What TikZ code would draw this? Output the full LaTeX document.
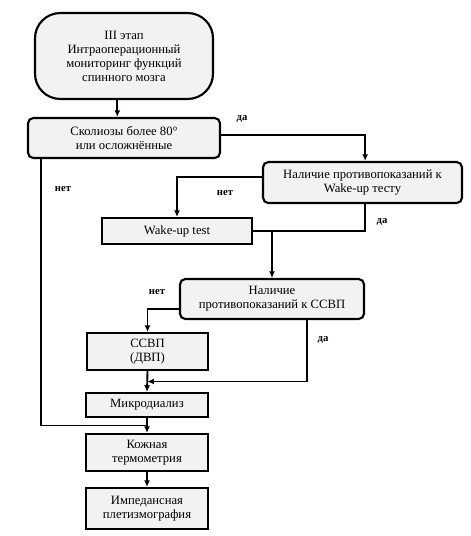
\documentclass[tikz,border=0pt]{standalone}
\usepackage{fontspec}
\setmainfont{Liberation Serif}
\usepackage{tikz}
\usetikzlibrary{arrows.meta, positioning, calc}

\tikzset{
 box/.style={draw, line width=1.6pt, fill=black!5, inner sep=0pt, align=center,
   font=\fontsize{9.5}{10.5}\selectfont},
 rbox/.style={box, rounded corners=4pt},
 arr/.style={-{Latex[length=5pt,width=4.5pt]}},
 lbl/.style={font=\bfseries\fontsize{8}{9}\selectfont}
}

\begin{document}
\begin{tikzpicture}[x=0.75pt,y=-0.75pt,line width=1.4pt]
 \useasboundingbox (0,0) rectangle (471,536);
 % boxes
 \node[box, rounded corners=19pt, minimum width=178*0.75pt, minimum height=86*0.75pt]
   (stage) at (124,56) {III этап\\Интраоперационный\\мониторинг функций\\спинного мозга};
 \node[rbox, minimum width=192*0.75pt, minimum height=40*0.75pt]
   (scol) at (124,138) {Сколиозы более 80°\\или осложнённые};
 \node[rbox, minimum width=199*0.75pt, minimum height=41*0.75pt]
   (cwake) at (362.5,182.5) {Наличие противопоказаний к\\Wake-up тесту};
 \node[box, minimum width=150*0.75pt, minimum height=26*0.75pt]
   (wake) at (177,231) {Wake-up test};
 \node[rbox, minimum width=184*0.75pt, minimum height=40*0.75pt]
   (cssvp) at (272,299) {Наличие\\противопоказаний к ССВП};
 \node[box, minimum width=121*0.75pt, minimum height=37*0.75pt]
   (ssvp) at (147.5,351.5) {ССВП\\(ДВП)};
 \node[box, minimum width=122*0.75pt, minimum height=24*0.75pt]
   (micro) at (147,405) {Микродиализ};
 \node[box, minimum width=122*0.75pt, minimum height=37*0.75pt]
   (therm) at (147,452.5) {Кожная\\термометрия};
 \node[box, minimum width=122*0.75pt, minimum height=41*0.75pt]
   (imped) at (147,508.5) {Импедансная\\плетизмография};

 % junctions
 \coordinate (j1) at (cssvp.north |- wake.east);
 \coordinate (j2) at ($(ssvp.south)!.5!(micro.north)$);
 \coordinate (j3) at ($(micro.south)!.5!(therm.north)$);

 % connectors
 \draw[arr] ([xshift=-5pt]stage.south) -- ([xshift=-5pt]scol.north);
 \draw[arr] ([yshift=2pt]scol.east) -| ([xshift=2pt]cwake.north);
 \draw[arr] ([yshift=4pt]cwake.west) -| (wake.north);
 \draw ([xshift=2pt]cwake.south) |- (j1);
 \draw[arr] (wake.east) -- (j1) -- (cssvp.north);
 \draw[arr] ([yshift=-7.5pt]cssvp.west) -| (ssvp.north);
 \draw[arr] ([xshift=26pt]cssvp.south) |- (j2);
 \draw[arr] (ssvp.south) -- (micro.north);
 \draw ([xshift=10.5pt]scol.south west) |- (j3);
 \draw[arr] (micro.south) -- (therm.north);
 \draw[arr] (therm.south) -- (imped.north);

 % labels
 \node[lbl] (yes1) at (242,119) {да};
 \node[lbl] (no1) at (63,189) {нет};
 \node[lbl] (no2) at (225,193) {нет};
 \node[lbl] (yes2) at (382,222) {да};
 \node[lbl] (no3) at (157,292) {нет};
 \node[lbl] (yes3) at (323,340) {да};
\end{tikzpicture}
\end{document}
